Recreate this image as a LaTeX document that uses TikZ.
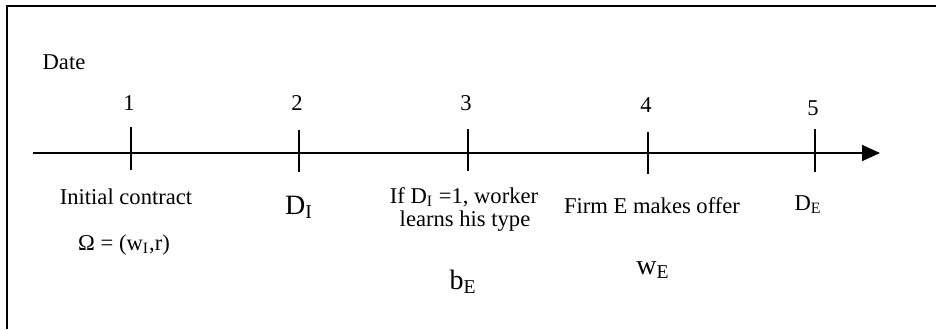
\documentclass[tikz,border=0pt]{standalone}
\usepackage{fontspec}
\setmainfont{Liberation Serif}
\usetikzlibrary{arrows.meta}

\begin{document}
\begin{tikzpicture}[
  x=0.5pt, y=-0.5pt, >={Triangle[length=9pt,width=8pt]},
  font=\fontsize{11.3}{13}\selectfont,
  L/.style={anchor=base, inner sep=0pt},
  Big/.style={L, font=\fontsize{14}{16}\selectfont},
  tick/.style={line width=0.8pt},
]
\useasboundingbox (0,0) rectangle (936,329);
% frame, only its left and top edges show
\draw[line width=1pt] (7,329) -- (7,6) -- (936,6);

\node[L] (date) at (64,69) {Date};

% time line
\coordinate (start) at (33,153);
\coordinate (end) at (880,153);
\draw[->, tick] (start) -- (end);

% ticks and dates
\foreach \n/\x/\t/\b/\y in {1/131/127/170/110, 2/299/130/172/110,
    3/468/129/171/110, 4/648/132/174/112, 5/815/129/172/115}{
  \coordinate (t\n) at (\x,153);
  \draw[tick] (\x,\t) -- (\x,\b);
  \node[L] (d\n) at (\x-2,\y) {\n};
}

% what happens at each date
\node[L] (init) at (126,204) {Initial contract};
\node[L] (omega) at (124,250) {Ω = (w\textsubscript{I},r)};
\node[Big] (dI) at (299,214) {D\textsubscript{I}};
\node[L] (learn) at (464,203) {If D\textsubscript{I} =1, worker};
\node[L] (type) at (465,226) {learns his type};
\node[Big] (bE) at (463,289) {b\textsubscript{E}};
\node[L] (offer) at (652,213) {Firm E makes offer};
\node[Big] (wE) at (653,274) {w\textsubscript{E}};
\node[L] (dE) at (808,210) {D\textsubscript{E}};

\end{tikzpicture}
\end{document}
